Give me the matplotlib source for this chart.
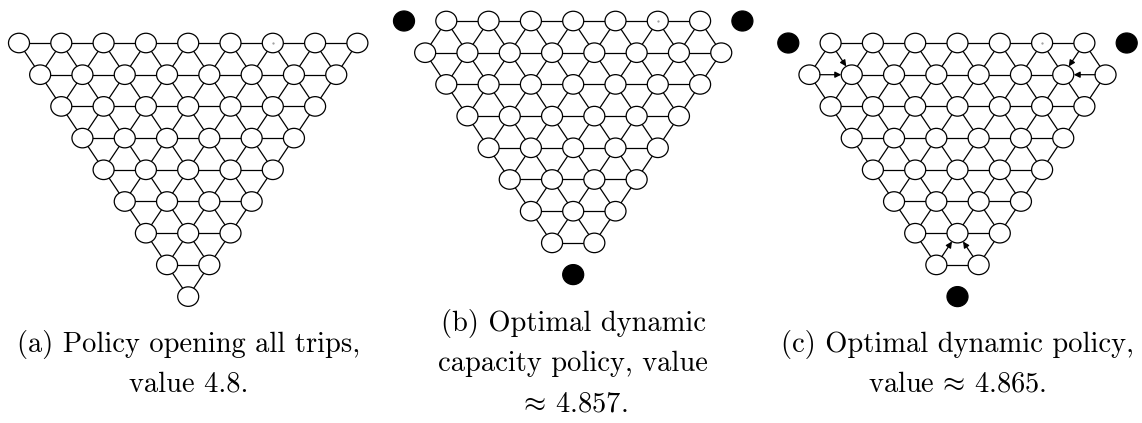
import matplotlib
matplotlib.use("Agg")
import matplotlib.pyplot as plt
from matplotlib.patches import Ellipse, FancyArrowPatch
import numpy as np

plt.rcParams['mathtext.fontset'] = 'cm'
plt.rcParams['axes.unicode_minus'] = False

# ---------------- data ----------------
N_ROWS = 9                      # top row has 9 nodes, bottom row 1
PANELS = ["a", "b", "c"]
# nodes replaced by black (depot) dots: (row, index)
BLACK_NODES = {
    "a": [],
    "b": [(0, 0), (0, 8), (8, 0)],
    "c": [(0, 0), (0, 8), (8, 0)],
}
# directed edges (source -> target) drawn as arrows
ARROWS = {
    "a": [],
    "b": [],
    "c": [((0, 1), (1, 1)), ((1, 0), (1, 1)),
          ((0, 7), (1, 6)), ((1, 7), (1, 6)),
          ((7, 0), (6, 1)), ((7, 1), (6, 1))],
}
DOT_NODE = (0, 6)               # tiny speck inside one node
CAPTIONS = {
    "a": ["(a) Policy opening all trips,", "value 4.8."],
    "b": ["(b) Optimal dynamic", "capacity policy, value", r"$\approx\,$4.857."],
    "c": ["(c) Optimal dynamic policy,", r"value$\,\approx\,$4.865."],
}

# ---------------- layout (pixels) ----------------
W, H = 1142, 423
ORIGIN = {"a": (19.0, 43.0), "b": (404.0, 21.0), "c": (788.3, 43.0)}
DX, DY = 42.3, 31.7
NODE_W, NODE_H = 21.0, 19.5
CAP_BASELINES = {"a": [352, 392], "b": [331, 371, 411], "c": [352, 392]}
FONTSIZE = 20.5

fig = plt.figure(figsize=(W / 100, H / 100), dpi=100)
ax = fig.add_axes([0, 0, 1, 1])
ax.set_xlim(0, W)
ax.set_ylim(H, 0)
ax.axis("off")


def pos(p, r, i):
    x0, y0 = ORIGIN[p]
    return x0 + (i + r / 2.0) * DX, y0 + r * DY


def boundary(p0, p1):
    # point on ellipse around p0 in direction of p1
    vx, vy = p1[0] - p0[0], p1[1] - p0[1]
    t = 1.0 / np.sqrt((vx / (NODE_W / 2)) ** 2 + (vy / (NODE_H / 2)) ** 2)
    return p0[0] + t * vx, p0[1] + t * vy


for p in PANELS:
    black = set(BLACK_NODES[p])
    arrows = ARROWS[p]
    arrow_set = set()
    for s, t in arrows:
        arrow_set.add((s, t))
        arrow_set.add((t, s))
    nodes = [(r, i) for r in range(N_ROWS) for i in range(N_ROWS - r)]
    white = [n for n in nodes if n not in black]
    wset = set(white)
    # edges of triangular lattice
    edges = []
    for (r, i) in white:
        for nb in [(r, i + 1), (r + 1, i - 1), (r + 1, i)]:
            if nb in wset:
                edges.append(((r, i), nb))
    for a, b in edges:
        if (a, b) in arrow_set:
            continue
        pa, pb = pos(p, *a), pos(p, *b)
        ax.plot([pa[0], pb[0]], [pa[1], pb[1]], color="black", lw=0.9,
                zorder=1, solid_capstyle="butt")
    for s, t in arrows:
        ps, pt = pos(p, *s), pos(p, *t)
        a0 = boundary(ps, pt)
        a1 = boundary(pt, ps)
        ax.add_patch(FancyArrowPatch(a0, a1, arrowstyle="-|>", mutation_scale=9,
                                     color="black", lw=0.9, shrinkA=0, shrinkB=0,
                                     zorder=3))
    for n in white:
        x, y = pos(p, *n)
        ax.add_patch(Ellipse((x, y), NODE_W, NODE_H, facecolor="white",
                             edgecolor="black", lw=0.9, zorder=2))
    for n in black:
        x, y = pos(p, *n)
        ax.add_patch(Ellipse((x, y), NODE_W, NODE_H + 0.5, facecolor="black",
                             edgecolor="black", lw=0.9, zorder=2))
    if DOT_NODE in wset:
        x, y = pos(p, *DOT_NODE)
        ax.plot([x], [y], marker="o", ms=0.6, color="#999999", zorder=3)
    # caption
    cx = pos(p, 0, 4)[0]
    for line, yb in zip(CAPTIONS[p], CAP_BASELINES[p]):
        ax.text(cx, yb, line, ha="center", va="baseline", fontsize=FONTSIZE,
                family="cmr10", color="black")

fig.savefig("out.png", dpi=100)
